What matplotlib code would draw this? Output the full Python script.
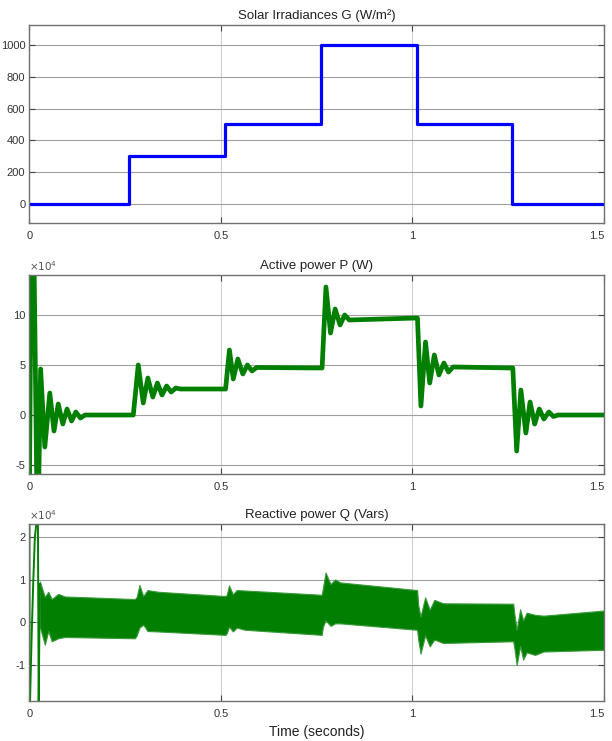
import matplotlib
matplotlib.use('Agg')
import matplotlib.pyplot as plt

plt.rcParams['font.family'] = ['Liberation Sans', 'DejaVu Sans']
plt.rcParams['font.size'] = 8

# Solar irradiance steps (W/m^2)
g_time = [0.0, 0.259, 0.51, 0.762, 1.011, 1.261, 1.5]
g_level = [0, 300, 500, 1000, 500, 0, 0]

p_time = [0.0, 0.004, 0.012, 0.019, 0.024, 0.029, 0.040, 0.053, 0.064, 0.075, 0.087,
          0.098, 0.110, 0.121, 0.133, 0.145, 0.271,
          0.284, 0.297, 0.309, 0.322, 0.334, 0.346, 0.358, 0.370, 0.382, 0.394, 0.512,
          0.522, 0.532, 0.544, 0.557, 0.569, 0.581, 0.593, 0.764,
          0.774, 0.786, 0.798, 0.811, 0.823, 0.835, 1.013,
          1.022, 1.034, 1.045, 1.057, 1.069, 1.082, 1.094, 1.106, 1.262,
          1.272, 1.283, 1.296, 1.307, 1.319, 1.331, 1.343, 1.356, 1.368, 1.380, 1.5]
p_value = [-7, 15, 15, -7, -7, 4.6, -3.2, 2.2, -1.6, 1.1, -0.9,
           0.6, -0.6, 0.3, -0.3, 0.0, 0.0,
           5.0, 1.2, 3.7, 1.8, 3.2, 2.0, 2.9, 2.3, 2.7, 2.6, 2.6,
           6.5, 3.6, 5.6, 4.1, 5.0, 4.4, 4.75, 4.7,
           12.8, 8.2, 10.6, 9.0, 10.0, 9.5, 9.7,
           0.9, 7.3, 3.2, 6.0, 4.0, 5.2, 4.3, 4.8, 4.7,
           -3.6, 2.5, -1.8, 1.3, -0.9, 0.6, -0.4, 0.3, -0.15, 0.0, 0.0]

# Reactive power Q (x1e4 Var): upper / lower envelope of the ripple band
q_time = [0.027, 0.040, 0.049, 0.058, 0.075, 0.092, 0.275, 0.280, 0.287, 0.297, 0.308,
          0.336, 0.512, 0.515, 0.521, 0.531, 0.541, 0.562, 0.763, 0.766, 0.773, 0.786,
          0.798, 0.811, 1.012, 1.015, 1.021, 1.033, 1.045, 1.057, 1.080, 1.263, 1.266,
          1.272, 1.281, 1.289, 1.298, 1.320, 1.342, 1.500]
q_upper = [0.96, 0.60, 0.72, 0.55, 0.67, 0.61, 0.55, 0.60, 0.88, 0.62, 0.76,
           0.72, 0.62, 0.65, 0.87, 0.66, 0.76, 0.75, 0.65, 0.80, 1.17, 0.90,
           1.01, 0.94, 0.76, 0.40, 0.14, 0.59, 0.30, 0.53, 0.45, 0.44, 0.20,
           -0.17, 0.31, 0.05, 0.23, 0.18, 0.16, 0.28]
q_lower = [-0.10, -0.52, -0.20, -0.44, -0.37, -0.34, -0.37, -0.30, -0.12, -0.05, -0.20,
           -0.21, -0.29, -0.25, -0.10, -0.21, -0.12, -0.17, -0.29, -0.10, 0.05, -0.08,
           -0.02, -0.02, -0.17, -0.40, -0.73, -0.30, -0.56, -0.40, -0.48, -0.44, -0.60,
           -1.00, -0.55, -0.87, -0.70, -0.76, -0.68, -0.64]
q_start_time = [0.001, 0.006, 0.010, 0.014, 0.019, 0.022, 0.024, 0.027]
q_start_value = [-1.9, -0.2, 1.0, 2.0, 2.4, 2.4, -1.9, 0.9]

green = '#007f00'

fig = plt.figure(figsize=(6.12, 7.41), dpi=100)
ax1 = fig.add_axes([0.0482, 0.699, 0.9387, 0.2672])
ax2 = fig.add_axes([0.0482, 0.3603, 0.9387, 0.2686])
ax3 = fig.add_axes([0.0482, 0.054, 0.9387, 0.2389])


def style(ax, yticks):
    ax.set_xlim(0, 1.5)
    ax.set_xticks([0, 0.5, 1, 1.5])
    ax.set_xticklabels(['0', '0.5', '1', '1.5'])
    ax.set_yticks(yticks)
    ax.set_yticklabels([str(v) for v in yticks])
    ax.tick_params(direction='in', length=4, width=0.8, color='#444444',
                   top=True, right=True, labelsize=8, labelcolor='#333333')
    ax.tick_params(axis='y', pad=3)
    ax.tick_params(axis='x', pad=6)
    ax.yaxis.grid(True, color='#a0a0a0', linewidth=0.8)
    ax.xaxis.grid(True, color='#d0d0d0', linewidth=0.8)
    ax.set_axisbelow(True)
    for s in ax.spines.values():
        s.set_color('#707070')
        s.set_linewidth(1.0)
    # keep the last x label inside the picture
    ax.get_xticklabels()[-1].set_horizontalalignment('right')
    ax.get_xticklabels()[-1].set_x(1.5)


# Irradiance
ax1.step(g_time, g_level, where='post', color='#0000ff', linewidth=2.3)
ax1.set_ylim(-120, 1125)
style(ax1, [0, 200, 400, 600, 800, 1000])
ax1.set_title('Solar Irradiances G (W/m²)', fontsize=9.5, pad=4, color='#222222')

# Active power
ax2.plot(p_time, p_value, color=green, linewidth=3.4, solid_joinstyle='round')
ax2.set_ylim(-5.9, 14)
style(ax2, [-5, 0, 5, 10])
ax2.set_title('Active power P (W)', fontsize=9.5, pad=4, color='#222222')
ax2.text(0.0, 1.01, r'$\times10^{4}$', transform=ax2.transAxes, fontsize=7.5,
         color='#555555', va='bottom', ha='left')

# Reactive power
ax3.plot(q_start_time, q_start_value, color=green, linewidth=1.4)
ax3.plot([0.002, 0.003], [2.4, -1.9], color=green, linewidth=0.8, alpha=0.5)
ax3.fill_between(q_time, q_lower, q_upper, color=green, linewidth=0.8,
                 edgecolor='#3a9a3a')
ax3.set_ylim(-1.84, 2.31)
style(ax3, [-1, 0, 1, 2])
ax3.set_title('Reactive power Q (Vars)', fontsize=9.5, pad=4, color='#222222')
ax3.text(0.0, 1.01, r'$\times10^{4}$', transform=ax3.transAxes, fontsize=7.5,
         color='#555555', va='bottom', ha='left')
ax3.set_xlabel('Time (seconds)', fontsize=10, labelpad=4, color='#222222')

fig.savefig('out.png', dpi=100)
